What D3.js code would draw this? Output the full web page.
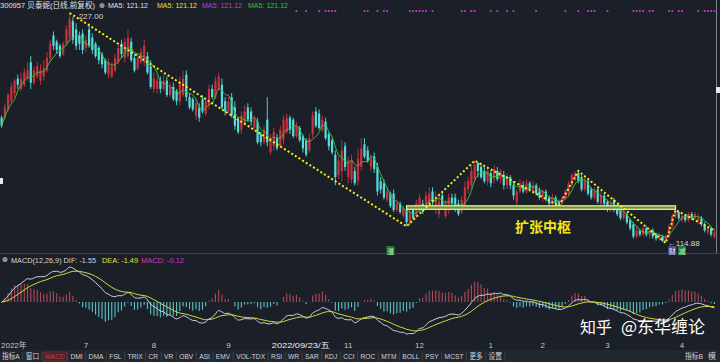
<!DOCTYPE html>
<html>
<head>
<meta charset="utf-8">
<script src="https://cdn.jsdelivr.net/npm/d3@7"></script>
<style>
body{margin:0;background:#1b1f28;overflow:hidden}
svg{display:block}
text{font-family:"Liberation Sans","Noto Sans CJK SC",sans-serif}
</style>
</head>
<body>
<svg width="720" height="362"></svg>
<script>
// 日线 OHLC（前复权）
const opens = [
	176,176,180,184,188,195,190,192,195,203,
	193,196,194,196,199,205,216,213,211,207,
	212,215,223,219,216,217,210,219,215,212,
	210,207,204,197,196,199,203,212,205,206,
	213,205,200,203,203,206,201,190,190,194,
	190,194,187,191,189,184,187,197,186,185,
	177,181,185,178,182,190,186,190,192,184,
	179,186,181,175,170,173,181,179,171,174,
	168,164,175,159,162,166,162,165,169,176,
	175,167,171,167,165,160,168,179,178,170,
	174,168,165,158,148,150,162,147,146,150,
	145,152,163,160,152,157,152,145,144,136,
	139,139,131,134,128,131,124,131,128,131,
	134,133,134,140,131,129,138,128,132,137,
	137,134,130,132,141,143,146,154,152,150,
	145,149,146,150,146,148,143,147,143,135,
	140,143,140,144,140,143,140,137,140,137,
	134,137,135,134,137,139,143,146,149,147,
	141,145,141,137,141,134,138,135,131,136,
	133,131,127,129,126,124,118,121,119,122,
	119,121,119,117,118,116,118,123,128,130,
	126,128,126,129,127,126,127,124,120,122,
	118
];
const closes = [
	172,181,187,191,194,192,195,198,199,193,
	199,201,199,200,205,212,211,209,206,212,
	219,224,214,211,212,209,214,211,209,206,
	204,202,198,203,201,205,210,207,213,215,
	204,199,205,208,211,198,191,195,194,190,
	194,187,191,185,184,193,195,186,181,180,
	183,176,179,184,190,186,194,196,181,179,
	184,177,172,169,177,179,175,174,175,164,
	164,170,164,166,169,161,170,175,176,170,
	167,172,165,161,158,166,177,172,171,175,
	166,162,159,147,155,160,152,155,155,144,
	156,161,157,155,156,151,140,141,137,140,
	133,131,134,130,132,125,130,127,134,137,
	130,138,139,135,136,135,133,134,137,134,
	131,129,136,142,145,150,153,150,147,145,
	150,144,151,146,150,143,147,143,138,140,
	144,140,144,141,143,139,137,140,136,134,
	137,134,134,137,140,144,148,149,145,141,
	145,139,137,140,135,138,134,131,134,132,
	129,127,130,125,122,118,121,119,122,119,
	121,118,117,119,116,118,123,128,130,127,
	128,126,129,127,129,127,124,121,122,119,
	120
];
const highs = [
	177,183,188,193,195,197,198,200,203,206,
	201,203,202,204,208,214,218,214,212,213,
	221,227,225,222,218,219,216,222,217,213,
	211,208,205,205,203,207,212,214,215,219,
	215,207,207,210,214,208,204,198,196,196,
	197,196,193,193,190,196,199,199,188,186,
	185,183,187,186,192,192,196,198,195,186,
	186,188,184,176,179,182,183,181,177,176,
	169,172,186,168,171,168,172,177,178,177,
	176,174,172,168,166,168,179,181,180,177,
	176,169,166,160,157,165,164,157,158,152,
	161,166,166,162,158,159,154,147,146,142,
	140,141,136,135,133,133,131,133,136,139,
	136,140,142,142,140,138,140,136,139,139,
	139,136,138,145,147,153,155,154,154,152,
	152,150,153,152,151,150,149,148,145,141,
	146,145,146,145,145,144,142,141,141,138,
	139,138,136,138,141,145,149,150,150,148,
	147,146,142,142,142,140,139,136,136,137,
	134,132,131,130,127,125,123,122,123,123,
	122,122,120,120,119,119,124,129,131,130.5,
	129,129,130,130,130,129,128,125,123,123,
	122
];
const lows = [
	171,175,179,183,186,190,189,191,194,190,
	192,195,192,194,198,203,209,207,205,206,
	211,213,212,209,209,207,208,210,207,205,
	202,200,197,195,195,198,202,205,203,205,
	203,198,199,202,201,197,190,188,188,188,
	189,186,186,184,182,182,186,184,180,179,
	175,174,178,177,180,185,185,189,180,177,
	178,176,170,168,168,172,174,172,170,163,
	162,163,162,158,160,160,161,163,168,168,
	166,166,164,159,157,159,166,171,170,169,
	165,160,158,143,146,145,150,144,144,143,
	143,150,156,154,150,149,138,139,136,135,
	132,130,130,129,127,123,123.5,126,127,130,
	129,131,132,133,129,127,131,127,129,132,
	130,128,129,131,139,141,145,147,146,144,
	143,142,144,145,144,141,141,141,136,133,
	139,139,139,140,139,138,136,135,135,133,
	133,133,133,133.5,136,138,142,145,144,140,
	140,138,136,136,134,133,133,130,130,130,
	128,126,126,124,121,117,117,118,118,118,
	117,117,116,116,115.5,114.88,117,122,127,126,
	125,125,125,126,126,124,123,120,119,118,
	117
];

// 笔的端点 [K线序号, 价格]
const pivots = [[21,227],[125,123],[146,155],[172,133],[178,150],[205,114.88],[208,131],[220,121]];
// 扩张中枢
const zoneIdx = [125, 208];
const zonePrice = [131.3, 133];

const monthTicks = [[26,"7"],[47,"8"],[70,"9"],[107,"11"],[129,"12"],[151,"1"],[167,"2"],[187,"3"],[210,"4"]];
const signalIdx = [91,94,98,100,101,102,103,112,113,116,118,119,126,127,128,129,130,131,133,
	142,143,145,146,151,153,156,158,165,174,178,181,182,183,187,195,196,197,198,200,201,
	206,207,209,210,215,217,218,219,220];
const eventMarks = [[120,"漫","g"],[207,"财","b"],[210,"减","g"]];

const headerName = "300957 贝泰妮(日线,前复权)";
const maLabels = ["MA5: 121.12","MA5: 121.12","MA5: 121.12","MA5: 121.12"];
const macdLabels = ["MACD(12,26,9) DIF: -1.55","DEA: -1.49","MACD: -0.12"];
const toolItems = ["指标A","窗口","MACD","DMI","DMA","FSL","TRIX","CR","VR","OBV","ASI","EMV","VOL-TDX",
	"RSI","WR","SAR","KDJ","CCI","ROC","MTM","BOLL","PSY","MCST","更多","设置"];

const N = closes.length;
const UP = "#c8323e", DOWN = "#54dede";

function ema(arr, n){
	let k = 2 / (n + 1), prev = arr[0];
	return arr.map((v, i) => prev = i ? v * k + prev * (1 - k) : v);
}

class Chart{
	constructor(){
		this.svg = d3.select("svg");
		this.x = d3.scaleLinear().domain([-0.5, N - 0.5]).range([0, 716]);
		this.y = d3.scaleLinear().domain([d3.min(lows), d3.max(highs)]).range([243, 13]);
		this.frame();
		this.candles();
		this.strokes();
		this.macd();
		this.texts();
		this.toolbar();
	}

	frame(){
		let svg = this.svg;
		svg.append("rect").attr("width",720).attr("height",362).attr("fill","#1b1f28");
		svg.append("line").attr("x1",0).attr("x2",720).attr("y1",253.5).attr("y2",253.5)
			.attr("stroke","#3b404b");
		svg.append("line").attr("x1",716.5).attr("x2",716.5).attr("y1",0).attr("y2",253)
			.attr("stroke","#7d828c");
		svg.append("rect").attr("x",0).attr("y",178).attr("width",3).attr("height",6).attr("fill","#e8e8e8");
		svg.append("rect").attr("x",716).attr("y",87).attr("width",4).attr("height",6).attr("fill","#e8e8e8");
	}

	candles(){
		let x = this.x, y = this.y;
		let idx = d3.range(N);
		let col = i => closes[i] >= opens[i] ? UP : DOWN;
		let g = this.svg.append("g");
		g.selectAll("line").data(idx).join("line")
			.attr("x1", i => x(i)).attr("x2", i => x(i))
			.attr("y1", i => y(highs[i])).attr("y2", i => y(lows[i]))
			.attr("stroke", col).attr("stroke-width", 0.9);
		g.selectAll("rect").data(idx).join("rect")
			.attr("x", i => x(i) - 1.1).attr("width", 2.2)
			.attr("y", i => y(Math.max(opens[i], closes[i])))
			.attr("height", i => Math.max(0.8, Math.abs(y(opens[i]) - y(closes[i]))))
			.attr("fill", col);

		let ma5 = idx.map(i => d3.mean(closes.slice(Math.max(0, i - 4), i + 1)));
		this.svg.append("path")
			.attr("d", d3.line().x((d, i) => x(i)).y(d => y(d)).curve(d3.curveMonotoneX)(ma5))
			.attr("fill","none").attr("stroke","#3cbf3c").attr("stroke-width",1);
	}

	strokes(){
		let x = this.x, y = this.y;
		let svg = this.svg;
		svg.append("rect")
			.attr("x", x(zoneIdx[0])).attr("width", x(zoneIdx[1]) - x(zoneIdx[0]))
			.attr("y", y(zonePrice[1])).attr("height", y(zonePrice[0]) - y(zonePrice[1]))
			.attr("fill","#6f8f3c").attr("stroke","#e2f28e").attr("stroke-width",1.3);
		svg.append("path")
			.attr("d", d3.line().x(d => x(d[0])).y(d => y(d[1]))(pivots))
			.attr("fill","none").attr("stroke","#f4ee1c").attr("stroke-width",2)
			.attr("stroke-dasharray","2,2.3");
		svg.append("text").attr("x", 543).attr("y", 232).attr("text-anchor","middle")
			.attr("font-size",14).attr("font-weight","bold").attr("fill","#f4e41a")
			.style("font-family","'Noto Sans CJK SC'")
			.text("扩张中枢");

		svg.selectAll("circle.sig").data(signalIdx).join("circle")
			.attr("class","sig").attr("cx", i => x(i)).attr("cy", 11).attr("r", 1.1)
			.attr("fill","#c43ccc");

		let hi = d3.maxIndex(highs), lo = d3.minIndex(lows);
		svg.append("text").attr("x", x(hi) + 9).attr("y", 19).attr("font-size",8)
			.attr("fill","#d6d6d6").text(highs[hi].toFixed(2));
		svg.append("text").attr("x", x(lo) + 2).attr("y", y(lows[lo]) + 3).attr("font-size",8)
			.attr("fill","#d6d6d6").text("←" + lows[lo].toFixed(2));

		let em = svg.selectAll("g.ev").data(eventMarks).join("g")
			.attr("transform", d => `translate(${x(d[0]) - 4},246)`);
		em.append("rect").attr("width",8).attr("height",9)
			.attr("fill", d => d[2] == "g" ? "#23793a" : "#44538c");
		em.append("text").attr("x",4).attr("y",7.5).attr("text-anchor","middle").attr("font-size",7)
			.attr("fill", d => d[2] == "g" ? "#c6f5c6" : "#e0e4f4").text(d => d[1]);
	}

	macd(){
		let x = this.x;
		let e12 = ema(closes, 12), e26 = ema(closes, 26);
		let dif = e12.map((v, i) => v - e26[i]);
		let dea = ema(dif, 9);
		let bar = dif.map((v, i) => 2 * (v - dea[i]));
		let my = d3.scaleLinear().domain(d3.extent(dif.concat(dea, bar))).range([334, 267]);
		let svg = this.svg;
		svg.append("g").selectAll("line").data(bar).join("line")
			.attr("x1", (d, i) => x(i)).attr("x2", (d, i) => x(i))
			.attr("y1", my(0)).attr("y2", d => my(d))
			.attr("stroke", d => d >= 0 ? "#b04a56" : "#5cc4c8").attr("stroke-width", 1.1);
		let line = d3.line().x((d, i) => x(i)).y(d => my(d)).curve(d3.curveMonotoneX);
		svg.append("path").attr("d", line(dif)).attr("fill","none").attr("stroke","#c9d2e4").attr("stroke-width",1);
		svg.append("path").attr("d", line(dea)).attr("fill","none").attr("stroke","#d6d83c").attr("stroke-width",1);
	}

	texts(){
		let svg = this.svg;
		let t = (xx, yy, s, c, w) => {
			let el = svg.append("text").attr("x", xx).attr("y", yy).attr("font-size", 8).attr("fill", c).text(s);
			if(w) el.attr("textLength", w).attr("lengthAdjust","spacingAndGlyphs");
			return el;
		};
		t(0, 8, headerName, "#e2e2e2", 95);
		svg.append("circle").attr("cx",102).attr("cy",5.5).attr("r",2.6).attr("fill","#8a8d94");
		let maCol = ["#e2e2e2","#e4e43a","#c83cc8","#38c038"];
		let maX = [108,157,202,248];
		maLabels.forEach((s, i) => t(maX[i], 8, s, maCol[i], 40));

		svg.append("circle").attr("cx",5).attr("cy",259.5).attr("r",2.6).attr("fill","#8a8d94");
		let mcCol = ["#d8d8d8","#e4e43a","#c83cc8"];
		let mcX = [11,102,141];
		let mcW = [85,36,43];
		macdLabels.forEach((s, i) => t(mcX[i], 262.5, s, mcCol[i], mcW[i]));

		// 时间轴
		let x = this.x;
		t(1, 348, "2022年", "#c6c6c6");
		monthTicks.forEach(d => t(x(d[0]), 348, d[1], "#c6c6c6").attr("text-anchor","middle"));
		t(x(84) - 2, 348, "2022/09/23/五", "#f2f2f2", 58);

		svg.append("text").attr("x",580).attr("y",333).attr("font-size",16).attr("fill","#ffffff")
			.style("font-family","'Noto Sans CJK SC'").text("知乎");
		svg.append("text").attr("x",621).attr("y",333).attr("font-size",17).attr("fill","#ffffff")
			.style("font-family","'Noto Sans CJK SC'").text("@东华缠论");
	}

	toolbar(){
		let svg = this.svg;
		svg.append("rect").attr("y",350).attr("width",720).attr("height",12).attr("fill","#22262e");
		let g = svg.append("g");
		let cx = 0, gap = 7;
		let pos = toolItems.map(s => {
			let el = g.append("text").attr("x", cx).attr("y", 0).attr("font-size", 8)
				.attr("fill", s == "MACD" ? "#e0343e" : "#cfd2d8").text(s);
			let w = el.node().getComputedTextLength();
			let p = [cx, w];
			cx += w + gap;
			return p;
		});
		pos.forEach((p, i) => {
			if(toolItems[i] == "MACD"){
				g.insert("rect", "text").attr("x", p[0] - 2).attr("y", -7).attr("width", p[1] + 4).attr("height", 9)
					.attr("fill","#3a262c").attr("stroke","#78303a").attr("stroke-width",0.8);
			}
			g.append("line").attr("x1", p[0] + p[1] + gap / 2).attr("x2", p[0] + p[1] + gap / 2)
				.attr("y1", -7).attr("y2", 2).attr("stroke","#3d414a");
		});
		let sx = 500 / (cx - gap);
		g.attr("transform", `translate(2,359) scale(${sx},1)`);
		svg.append("text").attr("x",685).attr("y",359).attr("font-size",8).attr("fill","#cfd2d8")
			.attr("textLength",18).attr("lengthAdjust","spacingAndGlyphs").text("指标B");
		svg.append("text").attr("x",708).attr("y",359).attr("font-size",8).attr("fill","#cfd2d8").text("模");
	}
}

new Chart();
</script>
</body>
</html>
